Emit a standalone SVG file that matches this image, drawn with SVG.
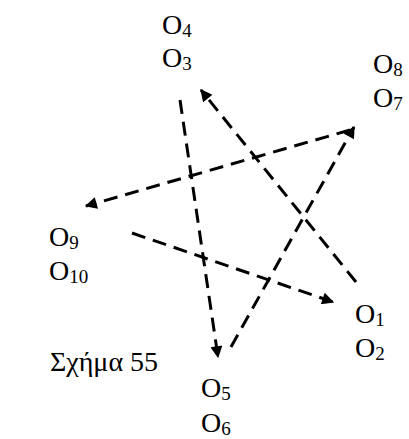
<svg xmlns="http://www.w3.org/2000/svg" width="409" height="439" viewBox="0 0 409 439">
<style>
text{font-family:"Liberation Serif","Times New Roman",serif;font-size:28px;fill:#000}
.s{font-size:19px}
.c{fill:none;stroke:#000;stroke-width:3;stroke-dasharray:14 8;marker-end:url(#ah)}
</style>
<defs>
<marker id="ah" viewBox="0 0 10 10" refX="9" refY="5" markerWidth="5" markerHeight="4" orient="auto" markerUnits="strokeWidth">
<path d="M0,0 L10,5 L0,10 Z" fill="#000"/>
</marker>
</defs>
<rect width="409" height="439" fill="#fff"/>
<g id="connectors">
<line class="c" x1="356" y1="282" x2="201" y2="90"/>
<line class="c" x1="180" y1="100" x2="218" y2="357"/>
<line class="c" x1="231" y1="347" x2="354" y2="127"/>
<line class="c" x1="350" y1="130" x2="86" y2="206"/>
<line class="c" x1="132" y1="233" x2="333" y2="302"/>
</g>
<g id="n43"><text x="162" y="34">O<tspan class="s" dy="3">4</tspan></text><text x="162" y="67">O<tspan class="s" dy="3">3</tspan></text></g>
<g id="n87"><text x="373" y="73">O<tspan class="s" dy="3">8</tspan></text><text x="373" y="107">O<tspan class="s" dy="3">7</tspan></text></g>
<g id="n910"><text x="49" y="246">O<tspan class="s" dy="3">9</tspan></text><text x="49" y="280">O<tspan class="s" dy="3">10</tspan></text></g>
<g id="n12"><text x="355" y="323">O<tspan class="s" dy="3">1</tspan></text><text x="355" y="357">O<tspan class="s" dy="3">2</tspan></text></g>
<g id="n56"><text x="201" y="397">O<tspan class="s" dy="3">5</tspan></text><text x="201" y="432">O<tspan class="s" dy="3">6</tspan></text></g>
<g id="caption"><text x="50" y="371">Σχήμα 55</text></g>
</svg>
